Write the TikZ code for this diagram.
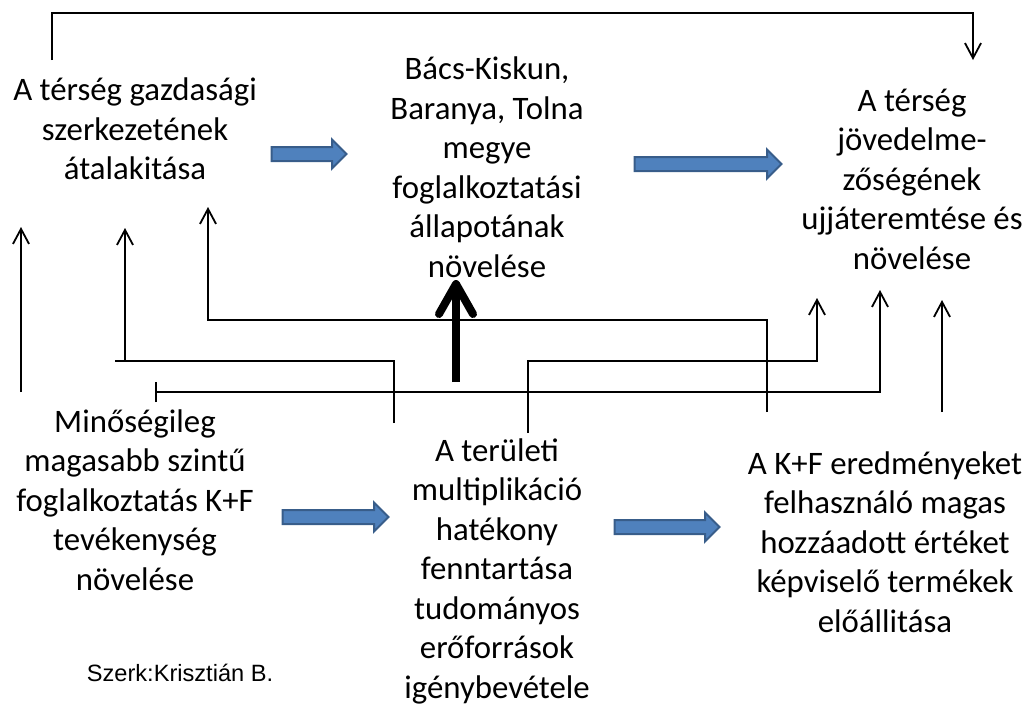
\documentclass[tikz,border=0pt]{standalone}
\usepackage{fontspec}
\setmainfont{Carlito}
\newfontfamily\szerkfont{Liberation Sans}
\usetikzlibrary{arrows.meta,shapes.arrows}
\definecolor{arrowfill}{HTML}{4F81BD}
\definecolor{arrowline}{HTML}{385D8A}

\begin{document}
\begin{tikzpicture}[x=1pt,y=-1pt,
        box/.style={align=center,inner sep=0pt,font=\fontsize{32.8}{39.5}\selectfont},
        link/.style={line width=1.8pt,-{Straight Barb[length=15pt,width=16pt]}},
        barlink/.style={line width=1.8pt,{Bar[width=20pt]}-{Straight Barb[length=15pt,width=16pt]}},
        boldarrow/.style={line width=8pt,-{Straight Barb[length=30pt,width=34pt,round]}},
        blockarrow/.style={single arrow,draw=arrowline,fill=arrowfill,line width=2pt,
            inner xsep=0pt,inner ysep=6pt,single arrow head extend=7.5pt}]
                \useasboundingbox (0,0) rectangle (1030,707);
                % the six statements
                \node[box] (terseg) at (135,129) {A térség gazdasági\\szerkezetének\\átalakitása};
                \node[box] (megye) at (487,167) {Bács-Kiskun,\\Baranya, Tolna\\megye\\foglalkoztatási\\állapotának\\növelése};
                \node[box] (jovedelem) at (912,179) {A térség\\jövedelme-\\zőségének\\ujjáteremtése és\\növelése};
                \node[box] (minoseg) at (135,500) {Minőségileg\\magasabb szintű\\foglalkoztatás K+F\\tevékenység\\növelése};
                \node[box] (multi) at (497,571) {A területi\\multiplikáció\\hatékony\\fenntartása\\tudományos\\erőforrások\\igénybevétele};
                \node[box] (kf) at (885,542) {A K+F eredményeket\\felhasználó magas\\hozzáadott értéket\\képviselő termékek\\előállitása};
                \node[font=\szerkfont\fontsize{23.6}{28}\selectfont,inner sep=0pt] (szerk) at (180,673) {Szerk:Krisztián B.};
                % blue arrows
                \node[blockarrow,minimum height=75pt] (ba) at (305.5,154) {};
                \node[blockarrow,minimum height=147pt] (bb) at (704.5,164) {};
                \node[blockarrow,minimum height=106pt] (bc) at (332,517) {};
                \node[blockarrow,minimum height=105pt] (bd) at (663.5,527) {};
                % ends of the connectors
                \coordinate (a1) at (52,60);
                \coordinate (a2) at (973,60);
                \coordinate (b1) at (21,392);
                \coordinate (b2) at (21,227);
                \coordinate (c1) at (394,423);
                \coordinate (c2) at (125,228);
                \coordinate (d1) at (767,412);
                \coordinate (d2) at (208,207);
                \coordinate (e1) at (528,433);
                \coordinate (e2) at (817,298);
                \coordinate (f1) at (155,392);
                \coordinate (f2) at (880,290);
                \coordinate (g1) at (942,412);
                \coordinate (g2) at (942,300);
                \coordinate (h1) at (456,382);
                \coordinate (h2) at (456,280);
                \draw[link] (a1) -- ++(0,-47) -| (a2);
                \draw[link] (b1) -- (b2);
                \draw[link] (c1) -- ++(0,-62) -| (c2);
                \draw[line width=1.8pt] (125,361) -- ++(-10,0);
                \draw[link] (d1) -- ++(0,-92) -| (d2);
                \draw[link] (e1) -- ++(0,-72) -| (e2);
                \draw[barlink] (f1) -| (f2);
                \draw[link] (g1) -- (g2);
                \draw[boldarrow] (h1) -- (h2);
            \end{tikzpicture}
\end{document}
